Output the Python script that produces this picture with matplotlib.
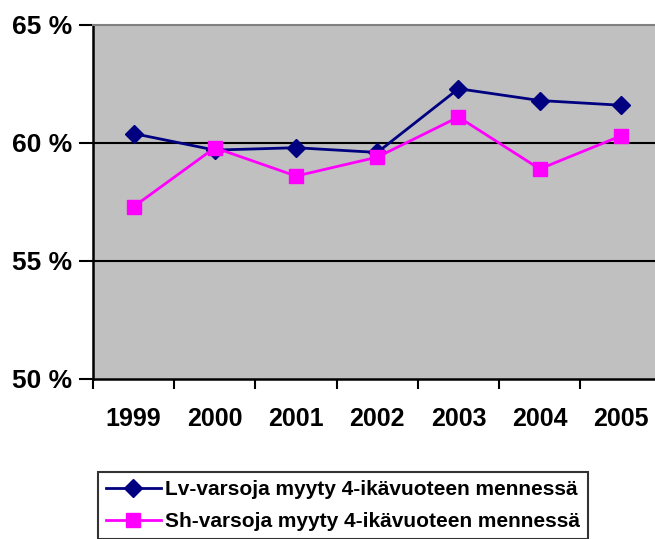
import matplotlib
matplotlib.use('Agg')
import matplotlib.pyplot as plt

years = ['1999', '2000', '2001', '2002', '2003', '2004', '2005']
lv = [60.4, 59.7, 59.8, 59.6, 62.3, 61.8, 61.6]
sh = [57.3, 59.8, 58.6, 59.4, 61.1, 58.9, 60.3]
yticks = [50, 55, 60, 65]

plt.rcParams['font.family'] = ['Liberation Sans', 'DejaVu Sans']
plt.rcParams['font.weight'] = 'bold'

fig = plt.figure(figsize=(6.55, 5.39), dpi=100)
ax = fig.add_axes([93/655, 1-379/539, 1-93/655 + 0.01, (379-25)/539])
ax.set_facecolor('#c0c0c0')

x = list(range(len(years)))
ax.plot(x, lv, color='#000080', lw=2, marker='D', ms=9,
        label='Lv-varsoja myyty 4-ikävuoteen mennessä', zorder=3)
ax.plot(x, sh, color='#ff00ff', lw=2, marker='s', ms=10,
        label='Sh-varsoja myyty 4-ikävuoteen mennessä', zorder=3)

ax.set_xlim(-0.5, len(years) - 0.5)
ax.set_ylim(50, 65)
ax.set_yticks(yticks)
ax.set_yticklabels(['%d %%' % v for v in yticks])
for v in yticks[1:3]:
    ax.axhline(v, color='black', lw=1.5, zorder=1)

# category boundaries for ticks, labels in the middle
ax.set_xticks([i - 0.5 for i in range(len(years) + 1)])
ax.set_xticklabels([])
ax.set_xticks(x, minor=True)
ax.set_xticklabels(years, minor=True)
ax.tick_params(axis='x', which='minor', length=0, pad=20, labelsize=18)
ax.tick_params(axis='x', which='major', length=7, width=1.5, direction='out')
ax.tick_params(axis='y', length=10, width=1.5, direction='out', pad=5, labelsize=19)

for s in ['left', 'bottom']:
    ax.spines[s].set_linewidth(1.8)
ax.spines['top'].set_color('#808080')
ax.spines['top'].set_linewidth(1.5)
ax.spines['right'].set_visible(False)

leg = fig.legend(loc='upper left', bbox_to_anchor=(98/655, 1-472/539),
                 frameon=True, fancybox=False, edgecolor='black',
                 prop={'size': 15, 'weight': 'bold'}, handlelength=2.6,
                 handletextpad=0.2, borderpad=0.4, labelspacing=0.6,
                 borderaxespad=0)
leg.get_frame().set_linewidth(1.5)

fig.savefig('out.png', dpi=100)
